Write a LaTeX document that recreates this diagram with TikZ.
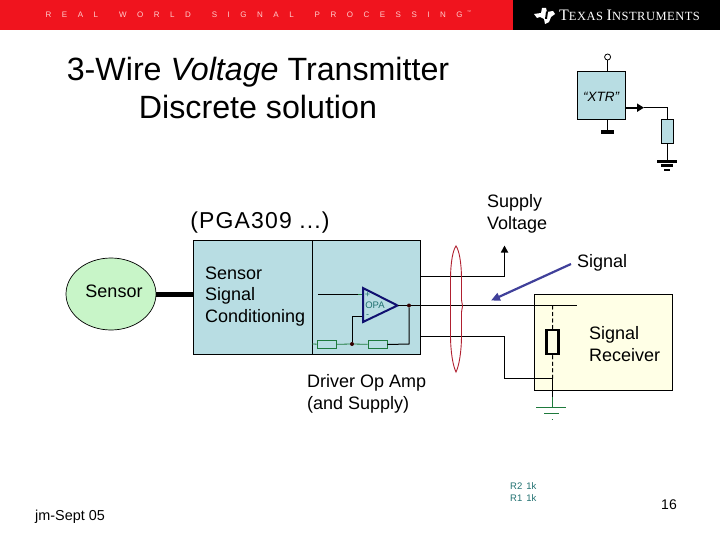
\documentclass[tikz,border=0pt]{standalone}
\usepackage{fontspec}
\setmainfont{Liberation Sans}
\newfontfamily\tiserif[LetterSpace=4]{Liberation Serif}
\usetikzlibrary{arrows.meta,shapes.geometric}
\definecolor{boxblue}{HTML}{B8DDE3}
\definecolor{sensgreen}{HTML}{C8F5C8}
\definecolor{recv}{HTML}{FFFFE6}
\definecolor{tired}{HTML}{F0141E}
\definecolor{rgreen}{HTML}{1E7A3C}
\definecolor{opablue}{HTML}{101070}
\definecolor{arrowblue}{HTML}{40409A}
\definecolor{loopred}{HTML}{B02030}
\definecolor{teal2}{HTML}{207070}
\tikzset{
 lab/.style={inner sep=0pt,font=\fontsize{18}{21.7}\selectfont,align=left},
 wire/.style={draw=black,line width=1pt},
 gwire/.style={draw=rgreen,line width=0.8pt},
 gres/.style={draw=rgreen,fill=boxblue,line width=0.9pt,minimum width=19pt,minimum height=7.5pt,inner sep=0pt},
 dot/.style={circle,fill=black!80!red,inner sep=0pt,minimum size=4pt},
 banner/.style={inner sep=0pt,text=white!80!red,font=\fontsize{8}{9}\selectfont},
 small/.style={inner sep=0pt,text=teal2,font=\fontsize{9.5}{11}\selectfont},
 blockbox/.style={draw=black,fill=boxblue,line width=0.9pt,inner sep=0pt},
}
\begin{document}
\begin{tikzpicture}[x=1pt,y=-1pt]
\useasboundingbox (0,0) rectangle (720,540);
% banner
\fill[tired] (0,0) rectangle (513,30);
\fill[black] (513,0) rectangle (720,30);
\node[banner,anchor=west] (bn) at (45.5,15) {R\hspace{10.5pt}E\hspace{10.5pt}A\hspace{10.5pt}L\hspace{21pt}W\hspace{10.5pt}O\hspace{10.5pt}R\hspace{10.5pt}L\hspace{10.5pt}D\hspace{21pt}S\hspace{10.5pt}I\hspace{10.5pt}G\hspace{10.5pt}N\hspace{10.5pt}A\hspace{10.5pt}L\hspace{21pt}P\hspace{10.5pt}R\hspace{10.5pt}O\hspace{10.5pt}C\hspace{10.5pt}E\hspace{10.5pt}S\hspace{10.5pt}S\hspace{10.5pt}I\hspace{10.5pt}N\hspace{10.5pt}G};
\node[banner,font=\fontsize{4}{5}\selectfont] (tm) at (469,12) {™};
\fill[white] (534,14) -- (541,13) -- (542,8) -- (546,8) -- (547,12) -- (553,11) -- (555,14) -- (551,17) -- (549,22) -- (545,24) -- (544,19) -- (540,17) -- (537,18) -- cycle;
\fill[black] (546,11.5) -- (548,11.5) -- (547,19) -- (545,19) -- cycle;
\node[inner sep=0pt,text=white,anchor=west] (ti) at (559,15) {\tiserif\fontsize{16}{17}\selectfont T\fontsize{12.5}{13}\selectfont EXAS \fontsize{16}{17}\selectfont I\fontsize{12.5}{13}\selectfont NSTRUMENTS};
% titles
\node[inner sep=0pt,align=center,font=\fontsize{32.2}{38}\selectfont] (title) at (258,87.5) {3-Wire \textit{Voltage} Transmitter\\Discrete solution};
\node[inner sep=0pt,font=\fontsize{23}{24}\selectfont\addfontfeature{LetterSpace=5}] (pga) at (260,223) {(PGA309 ...)};
% main block
\node[blockbox,minimum width=227pt,minimum height=114pt] (main) at (306.5,297) {};
\coordinate (divT) at (312,240);
\coordinate (divB) at (312,354);
\draw[wire] (divT) -- (divB);
% sensor
\node[draw=black,fill=sensgreen,ellipse,line width=0.7pt,minimum width=90pt,minimum height=72pt,inner sep=0pt] (sensor) at (111,294) {};
\node[lab] (senst) at (114,291) {Sensor};
\coordinate (thickend) at (193,294);
\draw[line width=5pt] (sensor.east) -- (thickend);
\node[lab,anchor=west] (cond) at (205,296.5) {Sensor\\Signal\\Conditioning};
% op amp
\coordinate (tl) at (363,288);
\coordinate (bl) at (363,322);
\coordinate (ap) at (397.5,305.5);
\coordinate (pin) at (363,294.5);
\coordinate (nin) at (363,316);
\coordinate (pinw) at (318,294.5);
\coordinate (pinm) at (358,294.5);
\node[dot] (d1) at (409,305.5) {};
\node[dot] (d2) at (352,344) {};
\coordinate (fbR) at (409,344);
\coordinate (leadL) at (312,344);
\coordinate (nk) at (352,316);
\node[gres] (r1) at (326.5,344.5) {};
\node[gres] (r2) at (377.5,344.5) {};
\draw[wire] (pinw) -- (pinm);
\draw[gwire] (pinm) -- (pin);
\draw[wire] (d2) -- (nk) -- (nin);
\draw[gwire] (leadL) -- (r1);
\draw[gwire] (r1) -- (d2);
\draw[gwire] (d2) -- (r2);
\draw[wire] (r2.east) -- (fbR) -- (d1);
\draw[draw=opablue,fill=boxblue,line width=2pt,line join=miter] (tl) -- (ap) -- (bl) -- cycle;
\node[small,font=\fontsize{9}{10}\selectfont] (plus) at (367.5,294.5) {+};
\node[small,font=\fontsize{9}{10}\selectfont] (minus) at (367.5,316) {-};
\node[small,font=\fontsize{9.5}{10}\selectfont] (opa) at (375,305) {OPA};
% receiver
\node[draw=black,fill=recv,line width=0.9pt,minimum width=138.5pt,minimum height=96pt,inner sep=0pt] (rx) at (603.25,342.5) {};
\coordinate (rxM) at (577,305.5);
\coordinate (j1) at (552.5,305.5);
\coordinate (j2) at (552.5,378.5);
\coordinate (g0) at (552.5,397);
\coordinate (g1) at (552.5,407);
\coordinate (turn1) at (504.5,336.5);
\coordinate (turn2) at (504.5,378.5);
\coordinate (sup1) at (504.5,276.5);
\coordinate (sup2) at (504.5,245.5);
\coordinate (mainU) at (420,276.5);
\coordinate (mainL) at (420,336.5);
\draw[wire] (d1) -- (ap);
\draw[wire] (d1) -- (rxM);
\draw[wire] (mainL) -- (turn1) -- (turn2) -- (j2);
\draw[wire] (mainU) -- (sup1);
\draw[wire,line width=1.6pt,-{Triangle[length=7pt,width=7pt]}] (sup1) -- (sup2);
\node[draw=black,line width=2.5pt,fill=recv,minimum width=12pt,minimum height=24pt,inner sep=0pt] (rres) at (552.7,342) {};
\draw[wire,dashed,dash pattern=on 4pt off 2.5pt] (j1) -- (rres.north);
\draw[wire,dashed,dash pattern=on 4pt off 2.5pt] (rres.south) -- (j2);
\draw[wire] (j2) -- (g0);
\draw[gwire] (g0) -- (g1);
\coordinate (ga) at (536,407.5); \coordinate (gb) at (566,407.5);
\coordinate (gc) at (544,413.5); \coordinate (gd) at (559,413.5);
\coordinate (ge) at (551.5,419); \coordinate (gf) at (552.5,419);
\draw[gwire] (ga) -- (gb);
\draw[gwire] (gc) -- (gd);
\draw[gwire] (ge) -- (gf);
% shield ellipse
\draw[loopred,line width=0.9pt] (456,246) .. controls (453,250) and (450.5,262) .. (450.5,280) -- (450.5,335) .. controls (450.5,352) and (453,366) .. (456,372) .. controls (459,366) and (461.5,352) .. (461.5,335) -- (461.5,312) -- (462.5,306) -- (461.5,300) -- (461.5,280) .. controls (461.5,262) and (459,250) .. (456,246) -- cycle;
% signal arrow
\coordinate (sigA) at (571,264);
\coordinate (sigB) at (491,300.5);
\draw[arrowblue,line width=2.2pt,-{Triangle[length=9pt,width=8pt]}] (sigA) -- (sigB);
% labels
\node[lab,anchor=west] (sup) at (487,213.5) {Supply\\Voltage};
\node[lab,anchor=west] (sig) at (577,262.5) {Signal};
\node[lab,anchor=west] (rec) at (589,344) {Signal\\Receiver};
\node[lab,anchor=west] (drv) at (307,393.5) {Driver Op Amp\\(and Supply)};
\node[inner sep=0pt,anchor=west,font=\fontsize{14.4}{16}\selectfont] (jm) at (35,517) {jm-Sept 05};
\node[inner sep=0pt,font=\fontsize{14}{16}\selectfont] (pg) at (669,505) {16};
\node[small,anchor=west] (r2t) at (510,486.5) {R2\hspace{4pt}1k};
\node[small,anchor=west] (r1t) at (510,498.5) {R1\hspace{4pt}1k};
% XTR
\node[blockbox,minimum width=48pt,minimum height=48pt] (xtr) at (601.3,95.3) {};
\node[inner sep=0pt,font=\fontsize{13.5}{15}\selectfont\itshape] (xtrt) at (601,97) {“XTR”};
\node[draw=black,circle,line width=0.8pt,fill=white,minimum size=6pt,inner sep=0pt] (vc) at (607.6,57) {};
\coordinate (xt) at (607.6,71.3);
\coordinate (xb) at (607.6,119.3);
\coordinate (xb2) at (607.6,131);
\draw[wire] (vc) -- (xt);
\draw[wire] (xb) -- (xb2);
\coordinate (bl1) at (601,132); \coordinate (bl2) at (614,132);
\draw[line width=3.5pt] (bl1) -- (bl2);
\coordinate (xo) at (625.3,107.7);
\coordinate (xa) at (644,107.7);
\coordinate (xc) at (667.5,107.7);
\node[draw=black,fill=boxblue,line width=0.9pt,minimum width=11.5pt,minimum height=24pt,inner sep=0pt] (xr) at (667.5,131.3) {};
\coordinate (xg) at (667.5,161);
\draw[wire] (xa) -- (xc) -- (xr);
\draw[line width=2pt,-{Triangle[length=7pt,width=8pt]}] (xo) -- (xa);
\draw[wire] (xr) -- (xg);
\coordinate (b1) at (657,161.5); \coordinate (b2) at (677,161.5);
\coordinate (b3) at (661,165.5); \coordinate (b4) at (673,165.5);
\coordinate (b5) at (664,170); \coordinate (b6) at (670,170);
\draw[line width=2.5pt] (b1) -- (b2);
\draw[line width=2.5pt] (b3) -- (b4);
\draw[line width=2.5pt] (b5) -- (b6);
\end{tikzpicture}
\end{document}
